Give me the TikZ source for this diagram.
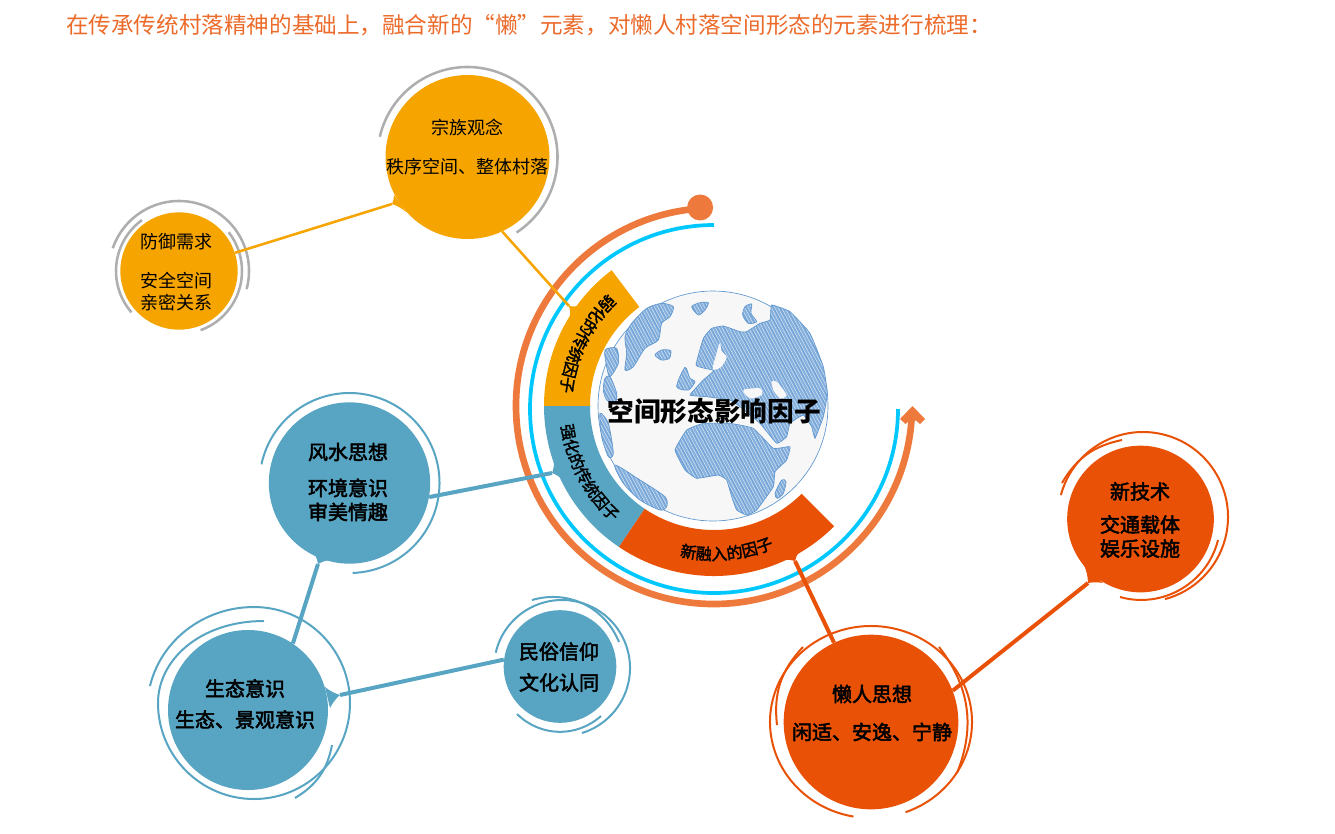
\documentclass[tikz,border=0pt]{standalone}
\usepackage{fontspec}
\setmainfont{Noto Sans CJK SC}
\newfontfamily\bandcjk[FakeBold=2]{Noto Sans CJK SC}
\newfontfamily\ballcjk[FakeBold=2.5]{Noto Sans CJK SC}
\usetikzlibrary{decorations.text}
\definecolor{goldtone}{HTML}{F5A400}
\definecolor{bluetone}{HTML}{57A5C3}
\definecolor{redtone}{HTML}{E95206}
\definecolor{ringgray}{HTML}{AEAEAE}
\definecolor{orangeline}{HTML}{ED7A3C}
\definecolor{cyanline}{HTML}{00C8FF}
\definecolor{landblue}{HTML}{86B0DD}
\definecolor{landedge}{HTML}{5F97CF}
\definecolor{globefill}{HTML}{F7F7F7}
\definecolor{titleorange}{HTML}{EC6A2A}
\newcommand{\bandfont}{\fontsize{12}{14}\bandcjk\selectfont}
\newcommand{\balltail}[4]{\fill[#1] #2 to[bend right=10] #3 to[bend right=10] #4 -- cycle;}
\newcommand{\landshapes}{
  plot[smooth cycle,tension=.45] coordinates {(105,170) (125,130) (170,85) (215,70) (250,80) (240,110) (215,130) (205,180) (165,205) (130,260) (105,270) (110,220)}
  plot[smooth cycle,tension=.45] coordinates {(195,225) (215,210) (242,212) (238,235) (215,240)}
  plot[smooth cycle,tension=.45] coordinates {(305,80) (330,68) (355,68) (345,90) (325,105)}
  plot[smooth cycle,tension=.45] coordinates {(465,80) (485,72) (483,100) (500,125) (475,130) (458,105)}
  plot[smooth cycle,tension=.2] coordinates {(318,255) (340,175) (365,145) (400,138) (450,155) (470,155) (510,130) (540,120) (545,75) (600,95) (660,160) (700,260) (712,340) (700,410) (675,475) (665,440) (640,405) (600,430) (590,470) (560,490) (510,430) (450,380) (420,360) (350,350) (300,345) (340,300) (372,272) (345,265)}
  plot[smooth cycle,tension=.2] coordinates {(255,510) (290,450) (340,430) (420,430) (490,445) (550,505) (600,500) (590,540) (555,575) (550,620) (500,690) (470,705) (440,690) (425,650) (410,600) (385,585) (320,595) (285,570)}
  plot[smooth cycle,tension=.45] coordinates {(260,320) (285,262) (300,295) (315,305) (295,330)}
  plot[smooth cycle,tension=.45] coordinates {(45,210) (80,205) (85,250) (60,290) (50,260)}
  plot[smooth cycle,tension=.45] coordinates {(45,295) (60,290) (80,340) (75,370) (50,360) (40,330)}
  plot[smooth cycle,tension=.45] coordinates {(30,400) (55,430) (70,520) (55,530) (35,470)}
  plot[smooth cycle,tension=.45] coordinates {(75,555) (150,600) (225,650) (230,680) (210,690) (150,660) (100,610)}
  plot[smooth cycle,tension=.45] coordinates {(555,640) (575,600) (588,605) (580,640) (562,655)}
}
\tikzset{
  ball/.style={circle,fill=#1,inner sep=0pt},
  balltext/.style={align=center,inner sep=0pt,text=black,font=\fontsize{15}{18}\ballcjk\selectfont},
  goldtext/.style={align=center,inner sep=0pt,text=black,font=\fontsize{13.5}{16.5}\selectfont},
  goldring/.style={draw=ringgray,line width=1.9pt},
  bluering/.style={draw=bluetone,line width=1.5pt},
  redring/.style={draw=redtone,line width=1.5pt},
  goldlink/.style={draw=goldtone,line width=1.9pt},
  bluelink/.style={draw=bluetone,line width=3pt},
  redlink/.style={draw=redtone,line width=3pt},
  bandtext/.style={decorate,decoration={text along path,text align=center,text={#1}}},
}
\begin{document}
\begin{tikzpicture}[x=.75pt,y=-.75pt]
  \useasboundingbox (0,0) rectangle (1335,833);
  \node[anchor=west,inner sep=0pt,text=titleorange,font=\fontsize{16.93}{20}\selectfont] (headline) at (66,25)
    {在传承传统村落精神的基础上，融合新的“懒”元素，对懒人村落空间形态的元素进行梳理：};
  % rings round the globe
  \draw[cyanline,line width=2.8pt] (714,409) ++(-90:184) arc (-90:-360:184);
  \begin{scope}[shift={(714,406)}]
    \draw[orangeline,line width=5pt] (-94:198) arc (-94:-358.5:198);
    \fill[orangeline] (-94:199) circle (13);
    \fill[orangeline] (198.5,0) -- (211,13) -- (206,18) -- (202,14.5) -- (195,14.5) -- (191.5,18) -- (186,13) -- cycle;
    \fill[goldtone] (-180:124) arc (-180:-127:124) -- (-127:170) arc (-127:-180:170) -- cycle;
    \fill[bluetone] (-180:124) arc (-180:-236:124) -- (-236:170) arc (-236:-180:170) -- cycle;
    \fill[redtone] (-236:124) arc (-236:-315:124) -- (-315:170) arc (-315:-236:170) -- cycle;
    \path[bandtext={|\bandfont|弱化的传统因子}] (-127:154) arc (-127:-181:154);
    \path[bandtext={|\bandfont|强化的传统因子}] (-181:154) arc (-181:-235:154);
    \path[bandtext={|\bandfont|新融入的因子}] (-235:154) arc (-235:-315:154);
  \end{scope}
  % globe
  \node[ball=globefill,draw=landedge,line width=.5pt,minimum size=172.5pt] (globe) at (713,406) {};
  \begin{scope}[shift={(590,280)},x=.25pt,y=-.25pt]
    \fill[landblue] \landshapes;
    \begin{scope}
      \clip \landshapes;
      \foreach \hx in {-500,-490,...,800}
        \draw[white,opacity=.75,line width=.3pt] (\hx,0) -- ++(400,750);
      \foreach \hx in {-494,-474,...,800}
        \draw[landedge,opacity=.6,line width=.5pt] (\hx,0) -- ++(400,750);
    \end{scope}
    \draw[landedge,line width=.5pt] \landshapes;
    \fill[globefill] plot[smooth cycle,tension=.45] coordinates {(378,225) (390,188) (394,212) (410,232) (392,262) (368,268)};
    \fill[globefill] plot[smooth cycle,tension=.45] coordinates {(460,330) (510,325) (515,345) (480,355)};
    \fill[globefill] plot[smooth cycle,tension=.45] coordinates {(545,305) (560,305) (590,345) (570,355) (550,330)};
  \end{scope}
  \node[font=\fontsize{20}{24}\selectfont\bfseries,inner sep=0pt,text=black] (globetitle) at (714,411) {空间形态影响因子};
  % balls
  \node[ball=goldtone,minimum size=123pt] (zongzu) at (467.5,157) {};
  \node[ball=goldtone,minimum size=88pt] (fangyu) at (179,271) {};
  \node[ball=bluetone,minimum size=121pt] (fengshui) at (349.5,483) {};
  \node[ball=bluetone,minimum size=120pt] (shengtai) at (248,710) {};
  \node[ball=bluetone,minimum size=84.5pt] (minsu) at (560,666.5) {};
  \node[ball=redtone,minimum size=131pt] (lanren) at (871,722) {};
  \node[ball=redtone,minimum size=110pt] (xinjishu) at (1140.5,519) {};
  \node[goldtext] (zongzutext) at (467.5,147) {宗族观念\\[12.8pt]秩序空间、整体村落};
  \node[goldtext] (fangyutext) at (176,272) {防御需求\\[12.8pt]安全空间\\亲密关系};
  \node[balltext] (fengshuitext) at (348,482) {风水思想\\[9pt]环境意识\\审美情趣};
  \node[balltext] (shengtaitext) at (245,704) {生态意识\\[5.3pt]生态、景观意识};
  \node[balltext] (minsutext) at (559,667) {民俗信仰\\[5.3pt]文化认同};
  \node[balltext] (lanrentext) at (872,713) {懒人思想\\[10.5pt]闲适、安逸、宁静};
  \node[balltext] (xinjishutext) at (1140,520) {新技术\\[6.8pt]交通载体\\娱乐设施};
  % rings round the balls
  \draw[goldring] (467.5,157) ++(-167:90) arc (-167:57:90);
  \draw[goldring] (179,271) ++(-161:70) arc (-161:15:70);
  \draw[goldring] (179,271) ++(139:63) arc (139:234:63);
  \draw[goldring] (179,271) ++(-38:63) arc (-38:70:63);
  \draw[bluering] (349.5,483) ++(-168:90) arc (-168:88:90);
  \draw[bluering] (150,686) .. controls (161,640) and (204,607) .. (254,607) arc (-90:180:96) .. controls (158,660) and (200,621) .. (264,621);
  \draw[bluering] (332,745) to[bend left=24] (295,798);
  \draw[bluering] (562,668) ++(-167:68) arc (-167:73:68);
  \draw[bluering] (532,600) to[bend left=42] (619,642);
  \draw[bluering] (517,714) to[bend right=43] (601,716);
  \draw[redring] (871,722) ++(70:101 and 96) arc (70:-260:101 and 96);
  \draw[redring] (803,647) to[bend right=25] (777,725);
  \draw[redring] (939,647) to[bend left=30] (957,773);
  \draw[redring] (1143,517) ++(-165:85) arc (-165:75:85);
  \draw[redring] (1122,440) to[bend right=24] (1062,483);
  \draw[redring] (1218,540) to[bend left=46] (1120,597);
  % tails and links
  \coordinate (zongzutip) at (392,204);
  \coordinate (fengshuitip) at (318,564);
  \coordinate (shengtaitip) at (340,695);
  \coordinate (xinjishutip) at (1088,583);
  \coordinate (goldtip) at (569,306);
  \coordinate (bluetip) at (552,473);
  \coordinate (redtip) at (795,561);
  \balltail{goldtone}{(406,212)}{(zongzutip)}{(394,195)}
  \balltail{bluetone}{(330,560)}{(fengshuitip)}{(314,553)}
  \balltail{bluetone}{(325,687)}{(shengtaitip)}{(330,708)}
  \balltail{redtone}{(1103,583)}{(xinjishutip)}{(1084,565)}
  \balltail{goldtone}{(570,318)}{(goldtip)}{(578,306)}
  \balltail{bluetone}{(563,480)}{(bluetip)}{(554,462)}
  \balltail{redtone}{(799,552)}{(redtip)}{(785,560)}
  \draw[goldlink] (fangyu.18) -- (zongzutip);
  \draw[goldlink] (zongzu.-65) -- (goldtip);
  \draw[bluelink] (fengshui.-10) -- (bluetip);
  \draw[bluelink] (fengshuitip) -- (shengtai.56);
  \draw[bluelink] (shengtaitip) -- (minsu.173);
  \draw[redlink] (redtip) -- (lanren.115);
  \draw[redlink] (lanren.21) -- (xinjishutip);
\end{tikzpicture}
\end{document}
